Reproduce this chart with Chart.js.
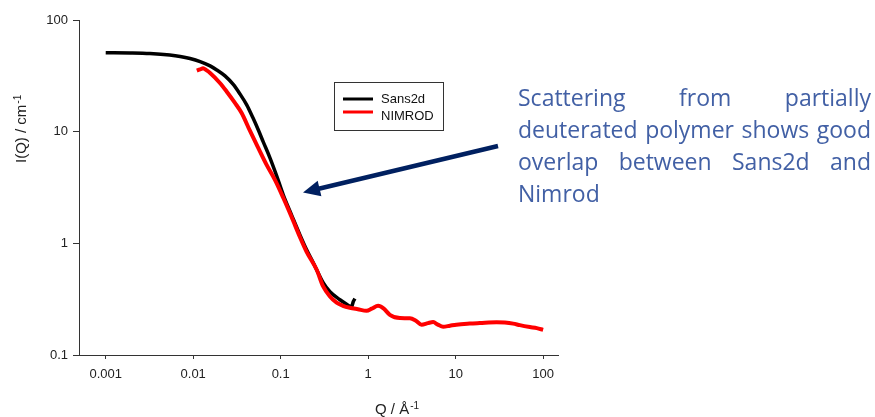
<!DOCTYPE html>
<html>
<head>
<meta charset="utf-8">
<script src="https://cdn.jsdelivr.net/npm/chart.js@4.4.1/dist/chart.umd.min.js"></script>
<style>
  body { margin: 0; background: #fff; }
  canvas { display: block; }
</style>
</head>
<body>
<canvas id="chart" width="875" height="417"></canvas>
<script>
// Sans2d curve (Q in 1/Angstrom, I in 1/cm)
const sansQ = [0.001, 0.0019, 0.0032, 0.0054, 0.0071, 0.0092, 0.012, 0.0156, 0.0186, 0.0231, 0.0287, 0.0342,
               0.0409, 0.0482, 0.0554, 0.0632, 0.0754, 0.09, 0.107, 0.133, 0.166, 0.198, 0.236, 0.306,
               0.366, 0.476, 0.557, 0.647, 0.675, 0.706];
const sansI = [51.0, 50.7, 50.1, 48.6, 47.2, 45.2, 42.4, 38.8, 35.7, 31.6, 26.5, 21.8,
               17.4, 13.3, 10.4, 8.1, 5.83, 4.02, 2.72, 1.80, 1.19, 0.876, 0.670, 0.444,
               0.368, 0.3125, 0.288, 0.2705, 0.300, 0.319];

// NIMROD curve
const nimrodQ = [0.011, 0.012, 0.013, 0.014, 0.0156, 0.0202, 0.0241, 0.030, 0.0358, 0.0445, 0.0554, 0.0691,
                 0.086, 0.107, 0.133, 0.166, 0.198, 0.258, 0.306, 0.366, 0.436, 0.515, 0.618, 0.763,
                 0.96, 1.10, 1.30, 1.51, 1.77, 2.31, 3.0, 3.51, 4.08, 4.82, 5.54, 6.26,
                 7.2, 8.6, 10.2, 14.5, 18.9, 29.4, 36.5, 45.4, 54.2, 70.5, 84.7, 100];
const nimrodI = [35.2, 36.1, 37.0, 35.7, 33.6, 27.3, 22.9, 18.1, 14.7, 10.2, 7.16, 5.04,
                 3.70, 2.56, 1.73, 1.14, 0.840, 0.580, 0.411, 0.334, 0.294, 0.276, 0.265, 0.257,
                 0.249, 0.260, 0.276, 0.260, 0.229, 0.214, 0.2135, 0.203, 0.187, 0.193, 0.197, 0.187,
                 0.179, 0.183, 0.187, 0.191, 0.193, 0.196, 0.195, 0.191, 0.185, 0.178, 0.174, 0.168];

const xTicks = [0.001, 0.01, 0.1, 1, 10, 100];
const xTickLabels = ['0.001', '0.01', '0.1', '1', '10', '100'];
const yTicks = [0.1, 1, 10, 100];
const yTickLabels = ['0.1', '1', '10', '100'];

const seriesNames = ['Sans2d', 'NIMROD'];
const seriesColors = ['#000000', '#ff0000'];

const noteLines = [
    ['Scattering', 'from', 'partially'],
    ['deuterated', 'polymer', 'shows', 'good'],
    ['overlap', 'between', 'Sans2d', 'and'],
    ['Nimrod']
];

const toPoints = (qs, is) => qs.map((q, i) => ({ x: q, y: is[i] }));
const tickFont = { family: '"Liberation Sans", Arial, sans-serif', size: 13 };

// legend, arrow, note and axis titles
const extras = {
    id: 'extras',
    afterDraw(chart) {
        const ctx = chart.ctx;
        ctx.save();

        // legend box
        ctx.fillStyle = '#fff';
        ctx.fillRect(334.5, 82.5, 109, 48);
        ctx.strokeStyle = '#333';
        ctx.lineWidth = 1;
        ctx.strokeRect(334.5, 82.5, 109, 48);
        const rows = [[99, 99], [112, 116]];
        ctx.font = '13px "Liberation Sans", Arial, sans-serif';
        ctx.textBaseline = 'middle';
        seriesNames.forEach((name, i) => {
            ctx.strokeStyle = seriesColors[i];
            ctx.lineWidth = 3;
            ctx.beginPath();
            ctx.moveTo(343, rows[i][0]);
            ctx.lineTo(373, rows[i][0]);
            ctx.stroke();
            ctx.fillStyle = '#111';
            ctx.fillText(name, 381, rows[i][1]);
        });

        // arrow
        const x0 = 498, y0 = 146, x1 = 303, y1 = 192.5;
        const ang = Math.atan2(y1 - y0, x1 - x0);
        const headLen = 17, headW = 8;
        const bx = x1 - headLen * Math.cos(ang), by = y1 - headLen * Math.sin(ang);
        ctx.strokeStyle = '#002060';
        ctx.fillStyle = '#002060';
        ctx.lineWidth = 4.5;
        ctx.beginPath();
        ctx.moveTo(x0, y0);
        ctx.lineTo(bx + 3 * Math.cos(ang), by + 3 * Math.sin(ang));
        ctx.stroke();
        ctx.beginPath();
        ctx.moveTo(x1, y1);
        ctx.lineTo(bx + headW * Math.sin(ang), by - headW * Math.cos(ang));
        ctx.lineTo(bx - headW * Math.sin(ang), by + headW * Math.cos(ang));
        ctx.closePath();
        ctx.fill();

        // justified note
        ctx.font = '23px "Open Sans", sans-serif';
        ctx.fillStyle = 'rgb(66,96,165)';
        ctx.textBaseline = 'alphabetic';
        const left = 518, right = 871;
        noteLines.forEach((words, i) => {
            const y = 106 + i * 32;
            const widths = words.map(w => ctx.measureText(w).width);
            const total = widths.reduce((a, b) => a + b, 0);
            const last = i === noteLines.length - 1 || words.length === 1;
            const gap = last ? ctx.measureText(' ').width : (right - left - total) / (words.length - 1);
            let x = left;
            words.forEach((w, j) => {
                ctx.fillText(w, x, y);
                x += widths[j] + gap;
            });
        });

        // axis titles
        ctx.fillStyle = '#222';
        ctx.font = '15px "Liberation Sans", Arial, sans-serif';
        ctx.fillText('Q / Å', 375, 414);
        const qw = ctx.measureText('Q / Å').width;
        ctx.font = '10px "Liberation Sans", Arial, sans-serif';
        ctx.fillText('-1', 375 + qw + 1, 409);

        ctx.translate(26, 163);
        ctx.rotate(-Math.PI / 2);
        ctx.font = '15px "Liberation Sans", Arial, sans-serif';
        ctx.fillText('I(Q) / cm', 0, 0);
        const iw = ctx.measureText('I(Q) / cm').width;
        ctx.font = '10px "Liberation Sans", Arial, sans-serif';
        ctx.fillText('-1', iw + 1, -5);

        ctx.restore();
    }
};

new Chart(document.getElementById('chart').getContext('2d'), {
    type: 'scatter',
    data: {
        datasets: [{
            label: seriesNames[0],
            data: toPoints(sansQ, sansI),
            borderColor: seriesColors[0],
            borderWidth: 3.5,
            showLine: true,
            pointRadius: 0,
            cubicInterpolationMode: 'monotone',
            order: 1
        }, {
            label: seriesNames[1],
            data: toPoints(nimrodQ, nimrodI),
            borderColor: seriesColors[1],
            borderWidth: 4,
            showLine: true,
            pointRadius: 0,
            cubicInterpolationMode: 'monotone',
            order: 0
        }]
    },
    options: {
        responsive: false,
        animation: false,
        layout: {
            padding: { left: 0, top: 20, right: 317, bottom: 0 }
        },
        scales: {
            x: {
                type: 'logarithmic',
                min: 0.000495,
                max: 148,
                grid: { drawOnChartArea: false, drawTicks: true, tickLength: 4, color: '#333' },
                border: { display: true, color: '#333', width: 1 },
                ticks: {
                    autoSkip: false,
                    maxRotation: 0,
                    padding: 8,
                    color: '#222',
                    font: tickFont,
                    callback: (v) => xTickLabels[xTicks.indexOf(v)]
                },
                afterBuildTicks: (scale) => { scale.ticks = xTicks.map(v => ({ value: v })); },
                afterFit: (scale) => { scale.height = 62; }
            },
            y: {
                type: 'logarithmic',
                min: 0.1,
                max: 100,
                grid: { drawOnChartArea: false, drawTicks: true, tickLength: 6, color: '#333' },
                border: { display: true, color: '#333', width: 1 },
                ticks: {
                    autoSkip: false,
                    padding: 5,
                    color: '#222',
                    font: tickFont,
                    callback: (v) => yTickLabels[yTicks.indexOf(v)]
                },
                afterBuildTicks: (scale) => { scale.ticks = yTicks.map(v => ({ value: v })); },
                afterFit: (scale) => { scale.width = 79; }
            }
        },
        plugins: {
            legend: { display: false },
            tooltip: { enabled: false }
        }
    },
    plugins: [extras]
});
</script>
</body>
</html>
